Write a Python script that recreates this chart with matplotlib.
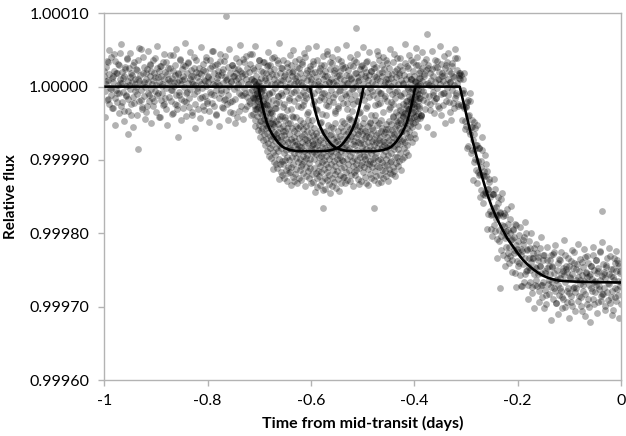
import numpy as np
import matplotlib
matplotlib.use("Agg")
import matplotlib.pyplot as plt
from matplotlib.ticker import FormatStrFormatter, MultipleLocator

plt.rcParams['font.family'] = ['Lato', 'DejaVu Sans']

# ---------------- data (flux offsets in ppm relative to 1.0) ----------------
# Light curve 1: uniformly sampled, 800 points from t=-1 to t=0
main_t_start, main_t_end, main_n = -1.0, 0.0, 800
main_flux_ppm = [
    14, -6, 27, 3, -18, 33, 9, -24, 17, -2, 41, -11, 12, -29, 6, 22, -15, 35, -4, 19, -21, 2, 30, -9, 11,
    46, -26, 5, 20, -7, 15, -33, 24, 1, -12, 38, 8, -17, 26, -3, 13, -38, 18, 7, -14, 29, -22, 4, 10, -1,
    23, -10, 36, -19, 8, 16, -5, 52, -28, 3, 19, -13, 27, 0, -35, 11, 24, -8, 6, -20, 31, 14, -3, 21, -16,
    9, -27, 18, 39, -6, 2, 25, -11, 13, -42, 7, 28, -18, 15, 4, -9, 33, -23, 10, 20, -2, -31, 17, 5, 26,
    -14, 8, 43, -20, 12, -4, 22, -36, 1, 16, 30, -12, 6, -25, 19, 9, -7, 37, -17, 3, 24, -29, 14, -1, 11,
    28, -8, -21, 18, 5, 34, -15, 10, -3, 23, -39, 7, 15, -10, 40, -24, 2, 20, -6, 13, -30, 26, 8, -16, 4,
    17, -2, 31, -26, 9, 22, -13, 1, 36, -19, 6, 14, -33, 25, -7, 11, 48, -22, 3, 19, -11, 29, -4, -37, 12,
    7, 21, -15, 2, 35, -9, 16, -28, 24, 5, -18, 13, 42, -5, -24, 10, 27, -12, 1, 18, -34, 8, 30, -20, 15,
    -3, 26, -17, 9, 19, -41, 12, 3, 33, -8, 22, -26, 6, 14, -11, 38, -2, 17, -30, 10, 25, -14, 4, 20, -7,
    31, -22, 11, -5, 44, -16, 8, 23, -31, 2, 15, -9, 28, -19, 6, 36, -13, 12, 1, -27, 20, -4, 34, 9, -15,
    18, -25, 5, 29, -10, 13, -36, 21, 3, -7, 39, -18, 10, 24, -2, -29, 16, 7, -13, 32, -21, 4, 19, -8, 26,
    -12, 9, 37, -23, 1, 17, -6, 27, -32, 11, 20, -15, 5, 30, -9, 14, -40, 22, 3, -19, 35, 8, -4, 15, -26,
    6, 25, -11, 18, -28, 2, 33, -7, 12, -20, 41, 0, -16, 23, 9, -34, 15, -3, 28, -12, 7, 19, -23, 31, 4,
    -9, 20, -30, 13, 36, -5, 8, -18, 26, 1, -14, 17, -37, 10, 29, -8, 22, 3, -25, 14, 45, -11, 6, -19, 24,
    11, -4, 32, -21, 7, 18, -10, -33, 25, 2, 15, -27, 38, -6, 12, 21, -15, 4, 30, -22, 9, -1, 27, -13, 16,
    -31, 5, 23, -8, 14, 40, -17, 10, -3, 28, -24, 6, 19, -12, 34, 1, -20, 13, 8, -36, 24, -5, 17, 29, -10,
    3, -18, 26, 12, -29, 20, -7, 35, 9, -14, 16, -2, -39, 22, 6, 31, -11, 14, -25, 4, 27, -16, 10, 43, -6,
    19, -22, 8, -9, 30, 15, -34, 2, 24, -13, 11, 37, -19, 5, 17, -4, 26, -28, 12, 1, -10, 33, -23, 7, 21,
    -15, 13, 39, -6, 4, -26, 18, 28, -12, 9, -35, 23, 3, 16, -8, 32, -20, 11, 0, 25, -30, 14, 6, -17, 36,
    10, -3, 22, -24, 15, 7, -14, 30, -9, 41, 2, -27, 19, 12, -5, -38, 26, 8, -18, 17, 34, -11, 4, 23, -21,
    5, 29, -13, 18, -32, 9, 1, 24, -7, 14, -20, 37, 6, -16, 27, -2, 11, -29, 20, 3, -10, 31, 15, -25, 8,
    16, -8, 25, -19, 4, 33, -12, 10, 21, -35, 7, 18, -4, 28, -22, 13, 2, -15, 39, -9, 23, 5, -27, 12, 19,
    11, -25, 16, -8, -26, 11, -29, -9, -58, -26,
    -53, -21, -40, -81, -39, -19, -64, -55, -87, -45,
    -73, -103, -65, -57, -98, -80, -132, -79, -101, -121,
    -83, -119, -101, -141, -87, -120, -146, -122, -93, -148,
    -122, -145, -115, -174, -139, -130, -169, -151, -194, -147,
    -173, -146, -166, -188, -139, -180, -164, -208, -175, -158,
    -175, -210, -172, -153, -204, -189, -230, -177, -190, -206,
    -175, -218, -203, -234, -187, -195, -219, -180, -231, -209,
    -237, -208, -194, -223, -205, -254, -216, -188, -238, -226,
    -211, -240, -202, -257, -229, -221, -272, -214, -242, -205,
    -255, -234, -200, -250, -223, -270, -233, -246, -220, -266,
    -239, -281, -234, -227, -256, -220, -270, -247, -264, -227,
    -256, -236, -279, -220, -245, -270, -254, -287, -236, -267,
    -229, -277, -254, -296, -247, -236, -269, -245, -283, -255,
    -273, -230, -266, -244, -290, -254, -225, -278, -263, -295,
    -250, -270, -241, -284, -261, -237, -278, -255, -302, -247,
    -289, -257, -230, -267, -249, -294, -253, -275, -244, -281,
    -261, -238, -285, -255, -299, -247, -273, -226, -280, -264,
    -275, -242, -260, -292, -251, -269, -235, -287, -257, -306,
    -246, -278, -265, -232, -283, -253, -296, -259, -240, -271,
    -301, -256, -244, -274, -262, -229, -289, -250, -267, -280,
    -237, -270, -254, -294, -247, -276, -263, -224, -285, -258,
    -283, -242, -274, -253, -299, -261, -246, -280, -234, -291,
    -256, -269, -231, -287, -258, -278, -249, -305, -263, -240,
    -275, -252, -292, -237, -265, -284, -244, -272, -254, -296,
]

# Light curve 2 (noisier): uniformly sampled, 500 points from t=-1 to t=0
second_t_start, second_t_end, second_n = -1.0, 0.0, 500
second_flux_ppm = [
    22, -41, 8, 35, -17, 50, -3, -29, 14, 44, -52, 19, -9, 31, -36, 5, 58, -21, 12, -47,
    27, -13, 39, -33, 2, 46, -24, 16, -55, 33, -6, 24, -38, 10, 53, -18, -30, 41, 7, -44,
    18, -27, 49, -11, 30, -49, 3, 37, -20, 13, -34, 56, -8, 21, -42, 28, 1, -25, 45, -15,
    34, -52, 11, 26, -4, -37, 43, 6, -23, 51, -31, 17, -12, 38, -46, 9, 29, -19, 60, -40,
    -7, 32, -28, 47, 15, -35, 4, 25, -57, 36, -2, 19, -43, 54, -14, 23, -32, 8, 40, -22,
    13, -48, 37, -10, 28, 48, -26, 2, -39, 31, 16, -53, 44, -5, 20, -29, 35, -17, 9, -45,
    52, -21, 6, 29, -36, 14, -50, 39, -1, 24, -33, 57, -12, 18, -44, 33, -8, 42, -27, 3,
    -19, 45, -38, 10, 26, -15, 55, -30, 7, 37, -47, 21, -3, 34, -24, 12, -56, 28, 47, -9,
    30, -34, 17, -51, 41, 4, -22, 36, -13, 59, -40, 9, 25, -28, 15, -46, 32, 0, -18, 43,
    -31, 20, 50, -7, 12, -42, 27, -16, 38, -54, 6, 31, -25, 46, -11, 18, -37, 53, -3, 24,
    11, -45, 35, -20, 56, -32, 3, 22, -49, 29, -8, 42, -17, 14, -39, 48, -26, 7, 33, -55,
    40, -14, 23, -36, 8, 51, -29, 16, -4, 35, -47, 26, -10, 57, -22, 5, -41, 30, 12, -33,
    -2, 37, -53, 19, 44, -19, 9, -35, 28, -12, 54, -43, 15, 33, -27, 2, 47, -50, 21, -6,
    26, -38, 13, 49, -24, 36, -9, -45, 20, 41, -16, 6, -58, 32, 10, -30, 52, -21, 17, -41,
    45, -7, -34, 24, -48, 16, 39, -13, 5, -37, 58, -25, 28, -3, 43, -52, 11, -19, 34, -28,
    8, 53, -44, 30, -15, 22, -40, 47, -6, 15, -31, 38, -55, 25, 2, -23, 49, -11, -36, 27,
    -16, 35, -27, 11, 55, -39, 18, -8, 42, -50, 29, -2, 46, -21, 7, -45, 32, 14, -29, 51,
    -12, 39, -24, 16,
    19, -45, -4, 19, -47, -28, -84, -18, -60, -8,
    -91, -55, -127, -48, -85, -113, -52, -116, -84, -151,
    -110, -69, -158, -115, -143, -106, -194, -140, -126, -175,
    -203, -146, -126, -197, -173, -234, -151, -195, -171, -223,
    -145, -198, -172, -244, -197, -167, -227, -240, -200, -163,
    -253, -196, -227, -187, -273, -222,
    -245, -192, -272, -224, -209, -266, -185, -251, -221, -290,
    -211, -250, -200, -273, -234, -302, -246, -215, -272, -232,
    -293, -244, -205, -271, -229, -302, -251, -284, -219, -263,
    -237, -318, -246, -228, -274, -216, -295, -262, -310, -235,
    -274, -226, -287, -252, -209, -301, -245, -279, -234, -316,
    -260, -294, -223, -274, -241, -306, -249, -214, -285, -263,
    -299, -239, -270, -222, -313, -254, -231, -290, -258, -321,
    -245, -278, -218, -297, -265, -236, -308, -251, -272, -226,
    -292, -212, -283, -256, -304, -243, -268, -220, -295, -248,
    -311, -259, -233, -287, -224, -276, -240, -316, -252, -267,
]

# Transit-window light curve: uniformly sampled, 560 points from t=-0.712 to t=-0.388
dip_t_start, dip_t_end, dip_n = -0.712, -0.388, 560
dip_flux_ppm = [
    -14, -37, -1, -25, 8, -46, -17, -10, -53, -5, -31, 4, -22, -40, -8, -59, -13, 1, -28, -3,
    -52, -15, -36, -68, -24, -7, -47, -30, -60, -38, -2, -56, -33, -73, -20, -44, -27, -65, -11, -50,
    -40, -80, -52, -23, -71, -88, -47, -34, -63, -18, -77, -55, -94, -43, -31, -67, -84, -49, -27, -72,
    -97, -58, -36, -80, -50, -112, -67, -89, -44, -62, -103, -53, -74, -29, -93, -65, -106, -47, -84, -70,
    -70, -111, -51, -88, -62, -126, -79, -44, -98, -73, -105, -56, -117, -67, -83, -40, -101, -76, -120, -60,
    -105, -53, -91, -66, -124, -79, -60, -100, -42, -113, -86, -71, -128, -57, -96, -76, -109, -50, -118, -83,
    -65, -100, -50, -116, -83, -134, -72, -87, -109, -57, -96, -76, -123, -41, -105, -68, -91, -128, -61, -80,
    -119, -74, -97, -53, -112, -85, -63, -131, -78, -103, -56, -90, -70, -125, -81, -114, -46, -99, -87, -108,
    -82, -127, -67, -75, -106, -49, -94, -118, -58, -88, -101, -64, -136, -71, -79, -110, -54, -97, -122, -73,
    -93, -60, -115, -77, -45, -104, -86, -124, -69, -98, -52, -111, -83, -132, -62, -90, -74, -119, -80, -66,
    -78, -130, -89, -56, -111, -99, -71, -143, -84, -118, -63, -92, -125, -80, -137, -67, -104, -75, -115, -96,
    -122, -87, -59, -108, -73, -134, -94, -48, -117, -82, -103, -128, -69, -141, -90, -77, -112, -62, -100, -124,
    -83, -139, -70, -105, -94, -61, -116, -86, -127, -52, -109, -75, -99, -133, -79, -121, -66, -91, -145, -88,
    -106, -64, -124, -81, -136, -95, -72, -113, -57, -101, -84, -130, -76, -108, -50, -119, -89, -138, -68, -98,
    -74, -115, -93, -60, -126, -85, -142, -78, -104, -67, -120, -96, -55, -111, -88, -132, -71, -100, -82, -123,
    -102, -61, -123, -83, -50, -109, -75, -90, -132, -65, -79, -117, -54, -98, -71, -127, -86, -62, -106, -44,
    -84, -113, -58, -129, -72, -95, -67, -120, -45, -101, -89, -55, -108, -78, -135, -63, -97, -74, -116, -51,
    -121, -80, -69, -105, -46, -114, -87, -59, -100, -126, -75, -64, -92, -111, -53, -133, -77, -96, -61, -107,
    -73, -128, -82, -56, -103, -65, -117, -88, -49, -110, -78, -94, -123, -70, -99, -60, -131, -85, -67, -104,
    -95, -62, -112, -76, -134, -54, -86, -106, -68, -119, -81, -48, -101, -90, -64, -125, -74, -109, -57, -98,
    -59, -104, -87, -127, -71, -80, -115, -45, -96, -76, -122, -66, -91, -52, -108, -83, -132, -63, -100, -73,
    -110, -77, -50, -98, -120, -69, -85, -130, -61, -103, -82, -56, -113, -74, -93, -125, -65, -79, -107, -88,
    -76, -115, -62, -99, -51, -122, -82, -69, -107, -84, -129, -58, -93, -73, -112, -47, -103, -79, -118, -65,
    -90, -51, -101, -76, -119, -59, -69, -109, -40, -85, -65, -115, -81, -56, -96, -122, -73, -47, -104, -78,
    -52, -96, -65, -39, -85, -108, -57, -70, -101, -45, -78, -32, -90, -62, -113, -50, -74, -99, -60, -42,
    -72, -40, -23, -84, -54, -96, -36, -49, -75, -29, -89, -46, -63, -19, -80, -57, -33, -69, -93, -43,
    -31, -60, -13, -47, -7, -68, -26, -43, -21, -75, -36, -16, -55, -2, -50, -34, -64, -24, -41, -70,
    -33, -6, -48, -17, 6, -40, -12, -26, 1, -54, -20, -3, -36, 12, -29, -10, -43, -16, 3, -38,
]

# isolated points read individually
outlier_t = [-0.765, -0.512, -0.375, -0.954, -0.935, -0.858, -0.363, -0.577, -0.478, -0.234, -0.037]
outlier_ppm = [96, 80, 72, -65, -85, -68, -65, -166, -166, -275, -170]

# model curves
model_t = [-1.0, -0.312, -0.30, -0.29, -0.28, -0.27, -0.26, -0.25, -0.24, -0.23, -0.22, -0.21,
           -0.20, -0.19, -0.18, -0.17, -0.16, -0.15, -0.14, -0.13, -0.12, -0.10, -0.08, -0.05, 0.0]
model_ppm = [0, 0, -36, -66, -94, -120, -144, -164, -180, -194, -207, -217,
             -227, -236, -243, -249, -254, -258, -261, -263, -264.5, -265.5, -266, -266.5, -267]

transit1_t = [-0.702, -0.698, -0.694, -0.690, -0.685, -0.680, -0.675, -0.670, -0.665, -0.660, -0.655,
              -0.650, -0.640, -0.630, -0.620, -0.600, -0.580, -0.570, -0.560, -0.550, -0.545, -0.540,
              -0.535, -0.530, -0.525, -0.520, -0.515, -0.510, -0.506, -0.502, -0.498]
transit2_t = [-0.602, -0.598, -0.594, -0.590, -0.585, -0.580, -0.575, -0.570, -0.565, -0.560, -0.555,
              -0.550, -0.540, -0.530, -0.520, -0.500, -0.480, -0.470, -0.460, -0.450, -0.445, -0.440,
              -0.435, -0.430, -0.425, -0.420, -0.415, -0.410, -0.406, -0.402, -0.398]
transit_ppm = [0, -14, -27, -38, -50, -58, -65, -70, -75, -79, -82, -84, -86.5, -87.5, -88, -88,
               -88, -87.5, -86.5, -84, -82, -79, -75, -70, -65, -58, -50, -38, -27, -14, 0]

x_ticks = [-1, -0.8, -0.6, -0.4, -0.2, 0]
x_tick_labels = ['-1', '-0.8', '-0.6', '-0.4', '-0.2', '0']

# ---------------- plotting ----------------
def flux(ppm):
    return 1.0 + np.asarray(ppm, dtype=float) * 1e-6

main_t = np.linspace(main_t_start, main_t_end, main_n)
second_t = np.linspace(second_t_start, second_t_end, second_n)
dip_t = np.linspace(dip_t_start, dip_t_end, dip_n)

fig = plt.figure(figsize=(6.26, 4.36), dpi=100)
ax = fig.add_axes([0.1666, 0.1284, 0.8254, 0.8411])

pt_kw = dict(s=24, c='#000000', alpha=0.30, linewidths=0, zorder=2)
ax.scatter(main_t, flux(main_flux_ppm), **pt_kw)
ax.scatter(second_t, flux(second_flux_ppm), **pt_kw)
ax.scatter(dip_t, flux(dip_flux_ppm), **pt_kw)
ax.scatter(outlier_t, flux(outlier_ppm), **pt_kw)

line_kw = dict(color='black', lw=1.9, zorder=3, solid_capstyle='butt')
ax.plot(model_t, flux(model_ppm), **line_kw)
ax.plot(transit1_t, flux(transit_ppm), **line_kw)
ax.plot(transit2_t, flux(transit_ppm), **line_kw)

ax.set_xlim(-1, 0)
ax.set_ylim(0.9996, 1.0001)
ax.yaxis.set_major_locator(MultipleLocator(0.0001))
ax.yaxis.set_major_formatter(FormatStrFormatter('%.5f'))
ax.set_xticks(x_ticks)
ax.set_xticklabels(x_tick_labels)

grey = '#b3b3b3'
for sp in ax.spines.values():
    sp.set_color(grey)
    sp.set_linewidth(1.0)
ax.tick_params(axis='both', direction='out', length=4, width=1.0, color=grey,
               labelsize=11.5, labelcolor='black')
ax.tick_params(axis='y', pad=7)
ax.tick_params(axis='x', pad=6)

ax.set_xlabel('Time from mid-transit (days)', fontsize=11.5, fontweight='bold', labelpad=6)
ax.set_ylabel('Relative flux', fontsize=11, fontweight='bold', labelpad=8)

fig.savefig('out.png', dpi=100)
